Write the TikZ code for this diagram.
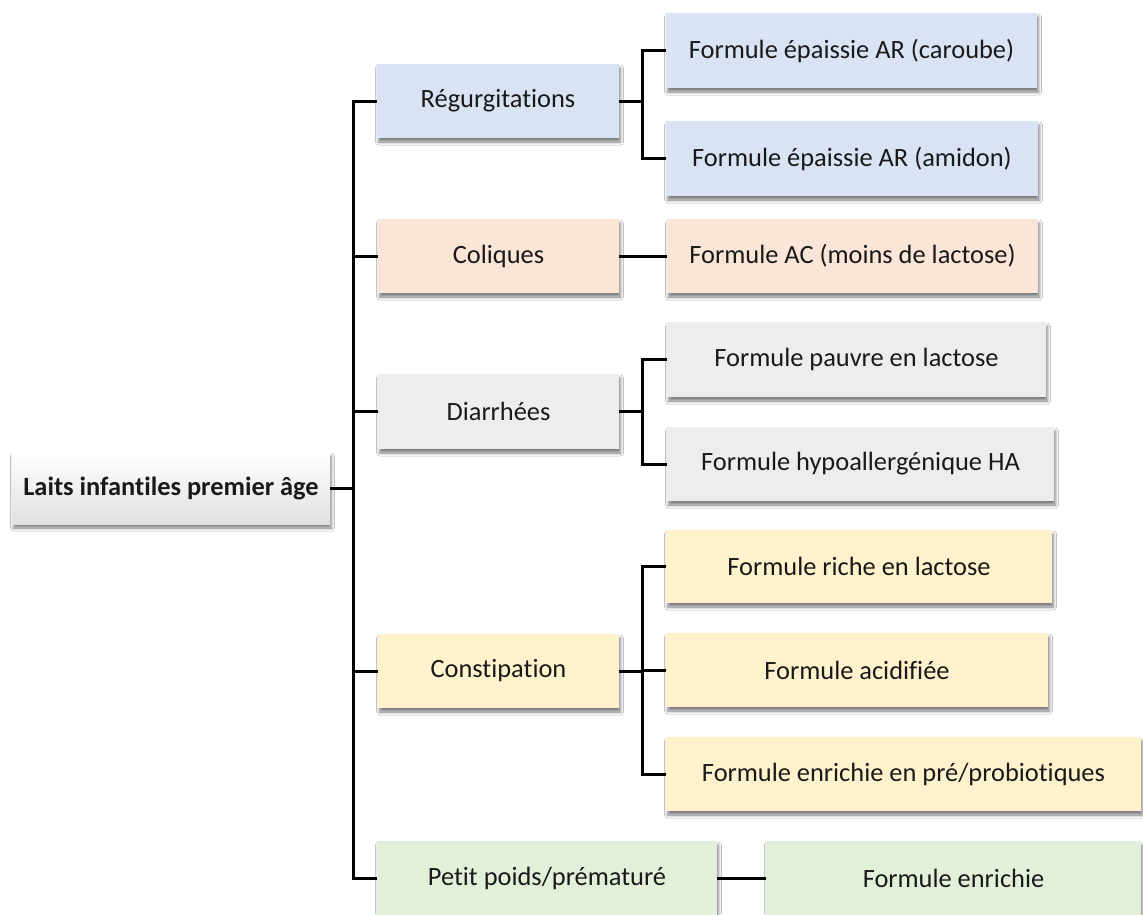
\documentclass[tikz,border=0pt]{standalone}
\usepackage{fontspec}
\setmainfont{Carlito}[Ligatures={NoCommon,TeX}]
\usetikzlibrary{shadows.blur}
\definecolor{cblue}{HTML}{DAE3F3}
\definecolor{corange}{HTML}{FBE5D6}
\definecolor{cgrey}{HTML}{EDEDED}
\definecolor{cyellow}{HTML}{FFF2CC}
\definecolor{cgreen}{HTML}{E2F0D9}
\tikzset{
  bx/.style={rectangle, inner sep=0pt, align=center, text=black!90,
    font=\fontsize{26.4pt}{30pt}\selectfont,
    blur shadow={shadow xshift=1.5pt, shadow yshift=-4pt, shadow blur radius=3pt, shadow opacity=50}},
  conn/.style={line width=3pt, black},
}
% \mybox{name}{x1}{y1}{x2}{y2}{style}{text}
\newcommand{\mybox}[7]{%
  \node[bx, #6, minimum width={#4pt-#2pt}, minimum height={#5pt-#3pt}]
    (#1) at ({(#2+#4)/2},{-(#3+#5)/2}) {#7};}
\begin{document}
\begin{tikzpicture}[x=1pt,y=1pt]
\fill[white] (0,0) rectangle (1143,-914);
\useasboundingbox (0,0) rectangle (1143,-914);
\coordinate (t) at (353,0);
\coordinate (b) at (642,0);
% level 0
\mybox{root}{12}{452}{330}{524}{top color=white, bottom color=black!12, font=\fontsize{26.4pt}{30pt}\selectfont\bfseries}{Laits infantiles premier âge}
% level 1
\mybox{reg}{377}{64}{619}{138}{fill=cblue}{Régurgitations}
\mybox{col}{378}{219}{619}{293}{fill=corange}{Coliques}
\mybox{dia}{378}{374}{619}{449}{fill=cgrey}{Diarrhées}
\mybox{con}{378}{634}{619}{708}{fill=cyellow}{Constipation}
\mybox{pet}{377}{841}{717}{916}{fill=cgreen}{Petit poids/prématuré}
% level 2
\mybox{car}{666}{13}{1037}{88}{fill=cblue}{Formule épaissie AR (caroube)}
\mybox{ami}{666}{121}{1038}{196}{fill=cblue}{Formule épaissie AR (amidon)}
\mybox{ac}{667}{219}{1038}{293}{fill=corange}{Formule AC (moins de lactose)}
\mybox{pau}{667}{322}{1046}{397}{fill=cgrey}{Formule pauvre en lactose}
\mybox{hyp}{667}{427}{1054}{501}{fill=cgrey}{Formule hypoallergénique HA}
\mybox{ric}{666}{530}{1052}{603}{fill=cyellow}{Formule riche en lactose}
\mybox{aci}{666}{633}{1048}{707}{fill=cyellow}{Formule acidifiée}
\mybox{pre}{666}{737}{1141}{811}{fill=cyellow}{Formule enrichie en pré/probiotiques}
\mybox{enr}{766}{841}{1141}{916}{fill=cgreen}{Formule enrichie}
% connectors
\foreach \c in {reg,col,dia,con,pet}
  \draw[conn] (root.east) -- (t |- root.east) |- (\c.west);
\foreach \p/\c in {reg/car,reg/ami,dia/pau,dia/hyp,con/ric,con/aci,con/pre}
  \draw[conn] (\p.east) -- (b |- \p.east) |- (\c.west);
\draw[conn] (col.east) -- (ac.west);
\draw[conn] (pet.east) -- (enr.west);
\end{tikzpicture}
\end{document}
